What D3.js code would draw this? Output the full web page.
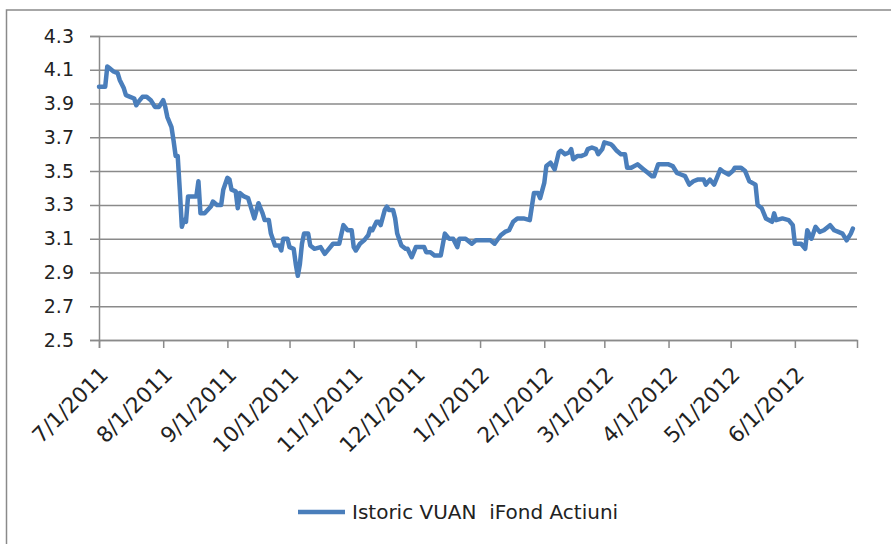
<!DOCTYPE html>
<html>
<head>
<meta charset="utf-8">
<script src="https://cdn.jsdelivr.net/npm/d3@7"></script>
<style>
    html, body { margin: 0; padding: 0; background: #fff; }
    svg text { font-family: 'DejaVu Sans', sans-serif; fill: #222; }
</style>
</head>
<body>
<svg id="canvas"></svg>
<script>
/** Main values */
let dates = [
    '2011-07-01', '2011-07-04', '2011-07-05', '2011-07-06', '2011-07-08', '2011-07-10', '2011-07-11', '2011-07-13',
    '2011-07-14', '2011-07-16', '2011-07-18', '2011-07-19', '2011-07-20', '2011-07-22', '2011-07-24', '2011-07-26',
    '2011-07-28', '2011-07-30', '2011-08-01', '2011-08-02', '2011-08-03', '2011-08-05', '2011-08-06', '2011-08-07',
    '2011-08-08', '2011-08-09', '2011-08-10', '2011-08-11', '2011-08-12', '2011-08-13', '2011-08-15', '2011-08-17',
    '2011-08-18', '2011-08-19', '2011-08-21', '2011-08-24', '2011-08-25', '2011-08-27', '2011-08-29', '2011-08-30',
    '2011-09-01', '2011-09-02', '2011-09-03', '2011-09-05', '2011-09-06', '2011-09-07', '2011-09-09', '2011-09-11',
    '2011-09-13', '2011-09-14', '2011-09-16', '2011-09-17', '2011-09-18', '2011-09-19', '2011-09-21', '2011-09-22',
    '2011-09-24', '2011-09-26', '2011-09-27', '2011-09-28', '2011-09-30', '2011-10-01', '2011-10-03', '2011-10-04',
    '2011-10-05', '2011-10-06', '2011-10-07', '2011-10-08', '2011-10-10', '2011-10-11', '2011-10-13', '2011-10-16',
    '2011-10-18', '2011-10-20', '2011-10-22', '2011-10-25', '2011-10-27', '2011-10-29', '2011-10-31', '2011-11-01',
    '2011-11-02', '2011-11-04', '2011-11-06', '2011-11-08', '2011-11-09', '2011-11-10', '2011-11-12', '2011-11-13',
    '2011-11-14', '2011-11-16', '2011-11-17', '2011-11-18', '2011-11-20', '2011-11-21', '2011-11-22', '2011-11-24',
    '2011-11-26', '2011-11-27', '2011-11-29', '2011-12-01', '2011-12-05', '2011-12-06', '2011-12-08', '2011-12-10',
    '2011-12-13', '2011-12-15', '2011-12-17', '2011-12-19', '2011-12-21', '2011-12-22', '2011-12-25', '2011-12-28',
    '2011-12-30', '2012-01-03', '2012-01-06', '2012-01-08', '2012-01-11', '2012-01-13', '2012-01-15', '2012-01-17',
    '2012-01-19', '2012-01-22', '2012-01-25', '2012-01-26', '2012-01-27', '2012-01-29', '2012-01-30', '2012-02-01',
    '2012-02-02', '2012-02-04', '2012-02-06', '2012-02-08', '2012-02-09', '2012-02-11', '2012-02-13', '2012-02-14',
    '2012-02-15', '2012-02-17', '2012-02-19', '2012-02-21', '2012-02-22', '2012-02-24', '2012-02-26', '2012-02-27',
    '2012-02-29', '2012-03-01', '2012-03-04', '2012-03-05', '2012-03-07', '2012-03-09', '2012-03-11', '2012-03-12',
    '2012-03-14', '2012-03-17', '2012-03-18', '2012-03-20', '2012-03-22', '2012-03-24', '2012-03-25', '2012-03-27',
    '2012-03-29', '2012-03-30', '2012-04-01', '2012-04-03', '2012-04-05', '2012-04-07', '2012-04-09', '2012-04-11',
    '2012-04-13', '2012-04-15', '2012-04-18', '2012-04-19', '2012-04-21', '2012-04-23', '2012-04-24', '2012-04-26',
    '2012-04-27', '2012-04-30', '2012-05-02', '2012-05-03', '2012-05-06', '2012-05-08', '2012-05-10', '2012-05-13',
    '2012-05-14', '2012-05-16', '2012-05-18', '2012-05-21', '2012-05-22', '2012-05-23', '2012-05-26', '2012-05-29',
    '2012-05-31', '2012-06-01', '2012-06-04', '2012-06-06', '2012-06-07', '2012-06-09', '2012-06-11', '2012-06-13',
    '2012-06-15', '2012-06-18', '2012-06-20', '2012-06-22', '2012-06-24', '2012-06-26', '2012-06-28', '2012-06-29'
];

let prices = [
    4.00, 4.00, 4.12, 4.11, 4.09, 4.08, 4.04, 3.99,
    3.95, 3.94, 3.93, 3.89, 3.91, 3.94, 3.94, 3.92,
    3.88, 3.88, 3.92, 3.88, 3.82, 3.76, 3.68, 3.59,
    3.59, 3.39, 3.17, 3.21, 3.20, 3.35, 3.35, 3.35,
    3.44, 3.25, 3.25, 3.29, 3.32, 3.30, 3.30, 3.39,
    3.46, 3.45, 3.39, 3.38, 3.28, 3.37, 3.35, 3.34,
    3.26, 3.22, 3.31, 3.28, 3.25, 3.21, 3.21, 3.13,
    3.06, 3.06, 3.03, 3.10, 3.10, 3.05, 3.04, 2.95,
    2.88, 2.95, 3.07, 3.13, 3.13, 3.06, 3.04, 3.05,
    3.01, 3.04, 3.07, 3.07, 3.18, 3.15, 3.15, 3.05,
    3.03, 3.07, 3.09, 3.12, 3.16, 3.15, 3.20, 3.20,
    3.18, 3.27, 3.29, 3.27, 3.27, 3.22, 3.13, 3.06,
    3.04, 3.04, 2.99, 3.05, 3.05, 3.02, 3.02, 3.00,
    3.00, 3.13, 3.10, 3.10, 3.05, 3.10, 3.10, 3.07,
    3.09, 3.09, 3.09, 3.07, 3.12, 3.14, 3.15, 3.20,
    3.22, 3.22, 3.21, 3.29, 3.37, 3.37, 3.34, 3.43,
    3.53, 3.55, 3.51, 3.61, 3.62, 3.60, 3.61, 3.63,
    3.57, 3.59, 3.59, 3.60, 3.63, 3.64, 3.63, 3.60,
    3.63, 3.67, 3.66, 3.65, 3.62, 3.60, 3.60, 3.52,
    3.52, 3.54, 3.53, 3.51, 3.49, 3.47, 3.47, 3.54,
    3.54, 3.54, 3.54, 3.53, 3.49, 3.48, 3.47, 3.42,
    3.44, 3.45, 3.45, 3.42, 3.45, 3.42, 3.45, 3.51,
    3.50, 3.48, 3.50, 3.52, 3.52, 3.50, 3.44, 3.42,
    3.30, 3.28, 3.22, 3.20, 3.25, 3.21, 3.22, 3.21,
    3.18, 3.07, 3.07, 3.04, 3.15, 3.10, 3.17, 3.14,
    3.15, 3.18, 3.15, 3.14, 3.13, 3.09, 3.13, 3.16
];

let monthTicks = [
    '7/1/2011', '8/1/2011', '9/1/2011', '10/1/2011', '11/1/2011', '12/1/2011',
    '1/1/2012', '2/1/2012', '3/1/2012', '4/1/2012', '5/1/2012', '6/1/2012'
];
let axisEnd = '7/1/2012';
let valueTicks = [2.5, 2.7, 2.9, 3.1, 3.3, 3.5, 3.7, 3.9, 4.1, 4.3];
let seriesName = 'Istoric VUAN\u00a0 iFond Actiuni';

let width = 891;
let height = 544;
let plotLeft = 99;
let plotRight = 857;
let plotTop = 36;
let plotBottom = 340;

let parseDay = d3.timeParse('%Y-%m-%d');
let parseTick = d3.timeParse('%-m/%-d/%Y');
let lineColor = '#4a7ebb';
let gridColor = '#8a8a8a';
let textColor = '#222';

let values = dates.map((d, i) => ({ date: parseDay(d), price: prices[i] }));

let xScale;
let yScale;

let canvas = d3.select('#canvas');

/** Canvas and outer chart frame (right/bottom edges fall outside the picture) */
const drawCanvas = () => {
    canvas.attr('width', width).attr('height', height);

    canvas.append('rect')
        .attr('x', 6.5)
        .attr('y', 10)
        .attr('width', width + 20)
        .attr('height', height + 20)
        .attr('fill', '#fff')
        .attr('stroke', '#8a8a8a')
        .attr('stroke-width', 1.5);
};

const generateScale = () => {
    xScale = d3.scaleTime()
        .domain([parseTick(monthTicks[0]), parseTick(axisEnd)])
        .range([plotLeft, plotRight]);

    yScale = d3.scaleLinear()
        .domain([valueTicks[0], valueTicks[valueTicks.length - 1]])
        .range([plotBottom, plotTop]);
};

/** Gridlines + y axis, then date axis with slanted labels */
const drawAxes = () => {
    let yAxis = d3.axisLeft(yScale)
        .tickValues(valueTicks)
        .tickSize(plotLeft - 90)
        .tickPadding(16)
        .tickFormat(d3.format('.1f'));

    let gy = canvas.append('g')
        .attr('id', 'y-axis')
        .attr('transform', `translate(${plotLeft}, 0)`)
        .call(yAxis);

    gy.attr('font-family', null);
    gy.select('.domain').attr('stroke', gridColor).attr('stroke-width', 1.5);
    gy.selectAll('.tick line')
        .attr('x2', plotRight - plotLeft)
        .attr('x1', -(plotLeft - 90))
        .attr('stroke', gridColor)
        .attr('stroke-width', 1.5);
    gy.selectAll('.tick text')
        .attr('font-size', 19)
        .attr('fill', textColor);

    let tickDates = monthTicks.map(parseTick);
    let xAxis = d3.axisBottom(xScale)
        .tickValues(tickDates)
        .tickSize(8)
        .tickSizeOuter(8)
        .tickFormat((d, i) => monthTicks[i]);

    let gx = canvas.append('g')
        .attr('id', 'x-axis')
        .attr('transform', `translate(0, ${plotBottom})`)
        .call(xAxis);

    gx.attr('font-family', null);
    gx.select('.domain').attr('stroke', gridColor).attr('stroke-width', 1.5);
    gx.selectAll('.tick line').attr('stroke', gridColor).attr('stroke-width', 1.5);
    gx.selectAll('.tick text')
        .attr('font-size', 21.5)
        .attr('fill', textColor)
        .attr('text-anchor', 'end')
        .attr('dy', null)
        .attr('y', 0)
        .attr('transform', 'translate(10, 36) rotate(-45)');
};

/** The price line */
const drawLine = () => {
    let line = d3.line()
        .x((d) => xScale(d.date))
        .y((d) => yScale(d.price));

    canvas.append('path')
        .datum(values)
        .attr('d', line)
        .attr('fill', 'none')
        .attr('stroke', lineColor)
        .attr('stroke-width', 4.5)
        .attr('stroke-linejoin', 'round')
        .attr('stroke-linecap', 'round');
};

const drawLegend = () => {
    let legend = canvas.append('g').attr('id', 'legend');

    legend.append('line')
        .attr('x1', 298)
        .attr('x2', 345)
        .attr('y1', 512)
        .attr('y2', 512)
        .attr('stroke', lineColor)
        .attr('stroke-width', 4.5);

    legend.append('text')
        .attr('x', 352)
        .attr('y', 518.5)
        .attr('font-size', 20)
        .text(seriesName);
};

drawCanvas();
generateScale();
drawAxes();
drawLine();
drawLegend();
</script>
</body>
</html>
